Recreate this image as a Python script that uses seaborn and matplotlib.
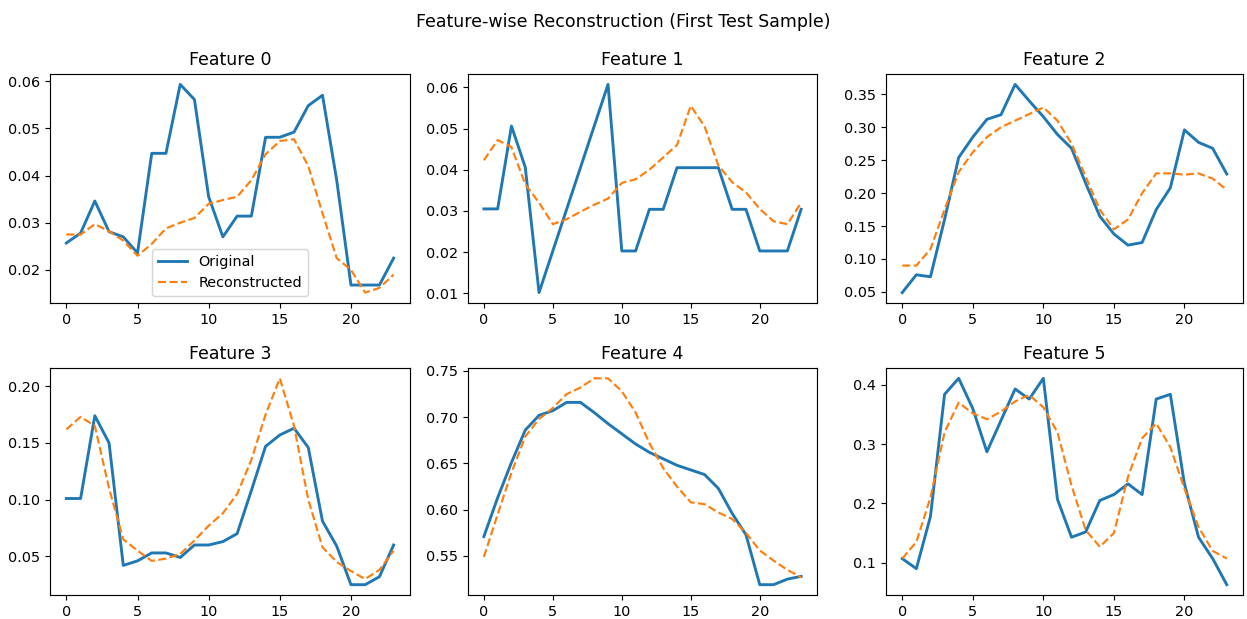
import numpy as np
import pandas as pd
import matplotlib
matplotlib.use("Agg")
import matplotlib.pyplot as plt
import seaborn as sns

steps = list(range(24))

orig_f0 = [0.0257, 0.0278, 0.0346, 0.0281, 0.0270, 0.0236, 0.0447, 0.0447, 0.0593, 0.0561, 0.0355, 0.0270,
           0.0314, 0.0314, 0.0481, 0.0481, 0.0492, 0.0548, 0.0570, 0.0390, 0.0168, 0.0168, 0.0168, 0.0225]
recon_f0 = [0.0275, 0.0275, 0.0297, 0.0282, 0.0262, 0.0230, 0.0255, 0.0288, 0.0300, 0.0310, 0.0340, 0.0348,
            0.0355, 0.0390, 0.0445, 0.0473, 0.0477, 0.0420, 0.0320, 0.0225, 0.0200, 0.0152, 0.0162, 0.0190]

orig_f1 = [0.0305, 0.0305, 0.0506, 0.0406, 0.0102, 0.0203, 0.0304, 0.0405, 0.0506, 0.0607, 0.0203, 0.0203,
           0.0304, 0.0304, 0.0405, 0.0405, 0.0405, 0.0405, 0.0304, 0.0304, 0.0203, 0.0203, 0.0203, 0.0304]
recon_f1 = [0.0423, 0.0472, 0.0455, 0.0365, 0.0320, 0.0268, 0.0280, 0.0298, 0.0315, 0.0330, 0.0368, 0.0377,
            0.0400, 0.0430, 0.0460, 0.0555, 0.0505, 0.0410, 0.0370, 0.0345, 0.0305, 0.0275, 0.0268, 0.0320]

orig_f2 = [0.049, 0.076, 0.073, 0.160, 0.254, 0.285, 0.312, 0.319, 0.365, 0.340, 0.316, 0.289,
           0.268, 0.215, 0.165, 0.138, 0.121, 0.125, 0.175, 0.208, 0.296, 0.277, 0.268, 0.229]
recon_f2 = [0.090, 0.090, 0.115, 0.175, 0.232, 0.262, 0.285, 0.300, 0.310, 0.320, 0.330, 0.310,
            0.275, 0.225, 0.175, 0.145, 0.160, 0.200, 0.230, 0.230, 0.228, 0.230, 0.222, 0.205]

orig_f3 = [0.101, 0.101, 0.174, 0.150, 0.042, 0.046, 0.053, 0.053, 0.049, 0.060, 0.060, 0.063,
           0.070, 0.108, 0.147, 0.157, 0.163, 0.146, 0.081, 0.059, 0.025, 0.025, 0.032, 0.060]
recon_f3 = [0.162, 0.173, 0.165, 0.110, 0.065, 0.055, 0.046, 0.048, 0.052, 0.064, 0.077, 0.088,
            0.105, 0.135, 0.175, 0.207, 0.165, 0.100, 0.058, 0.045, 0.037, 0.030, 0.038, 0.055]

orig_f4 = [0.571, 0.613, 0.651, 0.686, 0.702, 0.707, 0.716, 0.716, 0.705, 0.693, 0.682, 0.671,
           0.662, 0.655, 0.648, 0.643, 0.638, 0.623, 0.596, 0.573, 0.519, 0.519, 0.525, 0.528]
recon_f4 = [0.549, 0.595, 0.640, 0.679, 0.698, 0.710, 0.725, 0.732, 0.742, 0.742, 0.728, 0.705,
            0.672, 0.645, 0.625, 0.608, 0.606, 0.597, 0.590, 0.575, 0.556, 0.545, 0.535, 0.527]

orig_f5 = [0.107, 0.090, 0.178, 0.384, 0.411, 0.360, 0.287, 0.340, 0.393, 0.376, 0.411, 0.207,
           0.143, 0.152, 0.205, 0.215, 0.233, 0.215, 0.376, 0.384, 0.233, 0.143, 0.107, 0.063]
recon_f5 = [0.107, 0.135, 0.210, 0.320, 0.370, 0.352, 0.342, 0.355, 0.372, 0.383, 0.362, 0.320,
            0.230, 0.155, 0.127, 0.150, 0.245, 0.310, 0.335, 0.295, 0.225, 0.160, 0.120, 0.107]

features = [
    ("Feature 0", orig_f0, recon_f0),
    ("Feature 1", orig_f1, recon_f1),
    ("Feature 2", orig_f2, recon_f2),
    ("Feature 3", orig_f3, recon_f3),
    ("Feature 4", orig_f4, recon_f4),
    ("Feature 5", orig_f5, recon_f5),
]

plt.rcParams['font.family'] = ['DejaVu Sans']
W, H = 1247, 619
dpi = W / 12
fig, axes = plt.subplots(2, 3, figsize=(12, H / dpi), dpi=dpi)

# axes boxes in pixels (left, right) and (top, bottom)
col_px = [(50, 410), (468, 817), (886, 1243)]
row_px = [(74, 303), (368, 595)]

for i, (title, orig, recon) in enumerate(features):
    ax = axes.flat[i]
    r, c = divmod(i, 3)
    x0, x1 = col_px[c]
    t, b = row_px[r]
    ax.set_position([x0 / W, 1 - b / H, (x1 - x0) / W, (b - t) / H])
    sns.lineplot(x=steps, y=orig, ax=ax, color="#1f77b4", linewidth=2,
                 label="Original" if i == 0 else None)
    sns.lineplot(x=steps, y=recon, ax=ax, color="#ff7f0e", linewidth=1.5, linestyle="--",
                 label="Reconstructed" if i == 0 else None)
    ax.set_title(title, fontsize=12)
    ax.tick_params(labelsize=10)
    if i == 0:
        ax.legend(loc="lower center", fontsize=10)
    else:
        leg = ax.get_legend()
        if leg is not None:
            leg.remove()

fig.suptitle("Feature-wise Reconstruction (First Test Sample)", fontsize=12, y=1 - 22 / H, va="center")
fig.savefig("out.png", dpi=dpi)
